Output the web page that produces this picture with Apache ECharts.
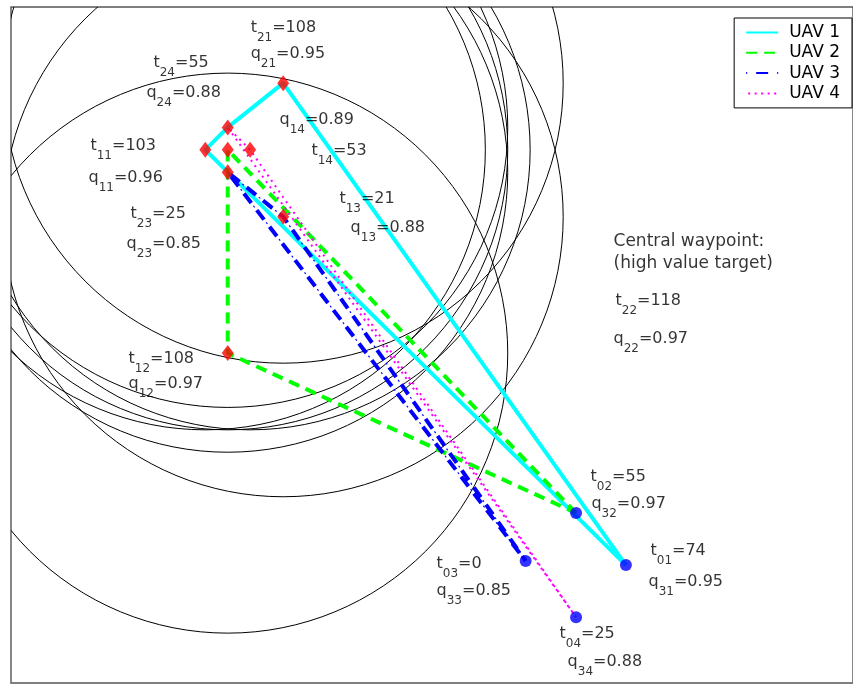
<!DOCTYPE html>
<html><head><meta charset="utf-8">
<script src="https://cdn.jsdelivr.net/npm/echarts@6/dist/echarts.min.js"></script>
<style>html,body{margin:0;padding:0;background:#fff}#c{width:853px;height:685px}</style>
</head><body><div id="c"></div>
<script>
// ---- data (in plot units) ----
// waypoints (red diamonds)
const wpD21 = [9.72, 21.42];
const wpD24 = [7.74, 19.84];
const wpD11 = [6.94, 19.04];
const wpDc  = [7.74, 19.04];
const wpDr  = [8.54, 19.04];
const wpDlo = [7.74, 18.24];
const wpD13 = [9.72, 16.65];
const wpD12 = [7.74, 11.78];
const waypoints = [wpD21, wpD24, wpD11, wpDc, wpDr, wpDlo, wpD13, wpD12];
// UAV start positions (blue dots)
const st01 = [21.96, 4.21];
const st02 = [20.18, 6.07];
const st03 = [18.38, 4.36];
const st04 = [20.18, 2.35];
const starts = [st01, st02, st03, st04];
// sensor range circle radius around each waypoint
const rangeRadius = 10;
// routes
const route1 = [st01, wpD21, wpD24, wpD11, st01];
const route2 = [st02, wpDc, wpD12, st02];
const route3 = [st03, wpDlo, wpD13, st03];
const route4 = [st04, wpD24, wpDr, st04];
const seriesNames = ['UAV 1', 'UAV 2', 'UAV 3', 'UAV 4'];
// annotations: [anchor x, anchor y, letter, subscript, rest]
const annotations = [
  [8.54, 23.41, 't', '21', '=108'],
  [8.54, 22.46, 'q', '21', '=0.95'],
  [5.07, 22.14, 't', '24', '=55'],
  [4.82, 21.07, 'q', '24', '=0.88'],
  [2.82, 19.18, 't', '11', '=103'],
  [2.75, 18.04, 'q', '11', '=0.96'],
  [9.57, 20.11, 'q', '14', '=0.89'],
  [10.71, 19.00, 't', '14', '=53'],
  [11.71, 17.29, 't', '13', '=21'],
  [12.11, 16.25, 'q', '13', '=0.88'],
  [4.25, 16.75, 't', '23', '=25'],
  [4.11, 15.68, 'q', '23', '=0.85'],
  [4.18, 11.57, 't', '12', '=108'],
  [4.18, 10.68, 'q', '12', '=0.97'],
  [21.57, 13.64, 't', '22', '=118'],
  [21.50, 12.29, 'q', '22', '=0.97'],
  [20.68, 7.36, 't', '02', '=55'],
  [20.71, 6.39, 'q', '32', '=0.97'],
  [22.82, 4.71, 't', '01', '=74'],
  [22.75, 3.61, 'q', '31', '=0.95'],
  [15.18, 4.25, 't', '03', '=0'],
  [15.18, 3.29, 'q', '33', '=0.85'],
  [19.57, 1.75, 't', '04', '=25'],
  [19.86, 0.75, 'q', '34', '=0.88']
];
const plainNotes = [
  [21.50, 15.75, 'Central waypoint:'],
  [21.50, 14.96, '(high value target)']
];
const xMax = 30.07, yMax = 24.14;

// ---- chart ----
const F = 'DejaVu Sans';
const chart = echarts.init(document.getElementById('c'), null, {renderer: 'canvas'});
const noAxis = {axisLine:{show:false}, axisTick:{show:false}, axisLabel:{show:false}, splitLine:{show:false}};
const rich = {
  m: {fontFamily: F, fontSize: 16, color: '#000', lineHeight: 36},
  c: {fontFamily: F, fontSize: 17, color: '#000', lineHeight: 36},
  s: {fontFamily: F, fontSize: 12, color: '#000', padding: [20, 0, 0, 0]}
};
const annData = annotations.map(a => ({value: [a[0], a[1]], l: a[2], sub: a[3], rest: a[4]}))
  .concat(plainNotes.map(a => ({value: [a[0], a[1]], plain: a[2]})));

chart.setOption({
  animation: false,
  backgroundColor: '#fff',
  grid: {left: 11, top: 7, right: 0, bottom: 2, show: true, borderColor: '#555', borderWidth: 1.4},
  xAxis: Object.assign({type: 'value', min: 0, max: xMax}, noAxis),
  yAxis: Object.assign({type: 'value', min: 0, max: yMax}, noAxis),
  legend: {
    data: seriesNames, orient: 'vertical', right: 1, top: 18,
    itemWidth: 32, itemHeight: 14, itemGap: 3.3,
    padding: [6, 12, 6, 11], borderColor: '#000', borderWidth: 1,
    backgroundColor: '#fff',
    textStyle: {fontFamily: F, fontSize: 17, color: '#000', padding: [0, 0, 0, 6]},
    itemStyle: {opacity: 0}
  },
  series: [
    {
      type: 'custom', silent: true, clip: true, z: 1,
      data: waypoints.map(p => [p[0], p[1], rangeRadius]),
      renderItem: (params, api) => {
        const c = api.coord([api.value(0), api.value(1)]);
        const s = api.size([api.value(2), api.value(2)]);
        return {type: 'circle', shape: {cx: c[0], cy: c[1], r: s[0]},
          style: {fill: null, stroke: '#000', lineWidth: 1}};
      }
    },
    {name: 'UAV 1', type: 'line', data: route1, symbol: 'none', z: 3,
      lineStyle: {color: '#00FFFF', width: 4, type: 'solid'}, itemStyle: {color: '#00FFFF'}},
    {name: 'UAV 2', type: 'line', data: route2, symbol: 'none', z: 3,
      lineStyle: {color: '#00FF00', width: 4, type: [11, 7]}, itemStyle: {color: '#00FF00'}},
    {name: 'UAV 3', type: 'line', data: route3, symbol: 'none', z: 3,
      lineStyle: {color: '#0000FF', width: 4, type: [12, 9], dashOffset: 11}, itemStyle: {color: '#0000FF'}},
    {name: 'UAV 3 dots', type: 'line', data: route3, symbol: 'none', z: 3,
      lineStyle: {color: '#0000FF', width: 1.2, type: [2, 19], dashOffset: 16.5}, itemStyle: {color: '#0000FF'}},
    {name: 'UAV 4', type: 'line', data: route4, symbol: 'none', z: 3,
      lineStyle: {color: '#FF00FF', width: 2, type: [2, 4.5]}, itemStyle: {color: '#FF00FF'}},
    {type: 'scatter', data: waypoints, symbol: 'diamond', symbolSize: [12, 16], z: 5,
      itemStyle: {color: '#FF0000'}, silent: true},
    {type: 'scatter', data: starts, symbol: 'circle', symbolSize: 12, z: 5,
      itemStyle: {color: '#0000FF'}, silent: true},
    {type: 'scatter', data: annData, symbolSize: 1, z: 6, silent: true,
      itemStyle: {color: 'rgba(0,0,0,0)'},
      label: {show: true, position: 'right', distance: 0, rich: rich, color: '#000',
        formatter: p => p.data.plain ? '{c|' + p.data.plain + '}' :
          '{m|' + p.data.l + '}{s|' + p.data.sub + '}{m|' + p.data.rest + '}'}}
  ]
});
</script></body></html>
